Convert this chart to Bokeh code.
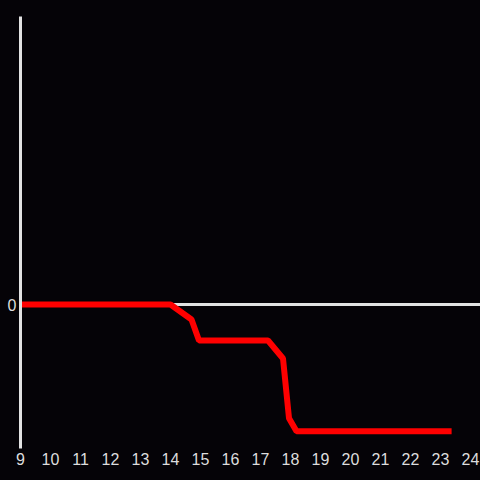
from bokeh.plotting import figure
from bokeh.models import Span, FixedTicker, Range1d
from bokeh.embed import file_html
from bokeh.resources import INLINE

# data
hours = [9, 14.0, 14.7, 14.95, 17.25, 17.75, 17.95, 18.2, 23.37]
values = [0, 0, -0.104, -0.25, -0.25, -0.375, -0.79, -0.88, -0.88]
x_ticks = list(range(9, 25))
y_ticks = [0]

BG = "#050307"
AXIS = "#e2e2e2"
LABEL = "#dddddd"

p = figure(width=480, height=480, output_backend="svg", toolbar_location=None,
           x_range=Range1d(9, 24.333), y_range=Range1d(-1, 2),
           min_border_left=20, min_border_right=0, min_border_top=16, min_border_bottom=32,
           background_fill_color=None, border_fill_color=None, outline_line_color=None)

p.xgrid.visible = False
p.ygrid.visible = False

zero = Span(location=0, dimension="width", line_color=AXIS, line_width=3, level="underlay")
p.add_layout(zero)

p.line(hours, values, line_color="#ff0000", line_width=6)

xa = p.xaxis[0]
xa.ticker = FixedTicker(ticks=x_ticks)
xa.axis_line_color = None
xa.major_tick_line_color = None
xa.minor_tick_line_color = None
xa.major_tick_out = 0
xa.major_label_standoff = 4
xa.major_label_text_color = LABEL
xa.major_label_text_font = "Liberation Sans"
xa.major_label_text_font_size = "16px"

ya = p.yaxis[0]
ya.ticker = FixedTicker(ticks=y_ticks)
ya.axis_line_color = AXIS
ya.axis_line_width = 3
ya.major_tick_line_color = None
ya.minor_tick_line_color = None
ya.major_tick_out = 0
ya.major_label_standoff = 4
ya.major_label_text_color = LABEL
ya.major_label_text_font = "Liberation Sans"
ya.major_label_text_font_size = "16px"

html = file_html(p, INLINE)
style = "<style>html, body { margin: 0 !important; padding: 0; background: %s !important; overflow: hidden; }</style>" % BG
html = html.replace("</head>", style + "</head>", 1)
open("out.html", "w").write(html)
